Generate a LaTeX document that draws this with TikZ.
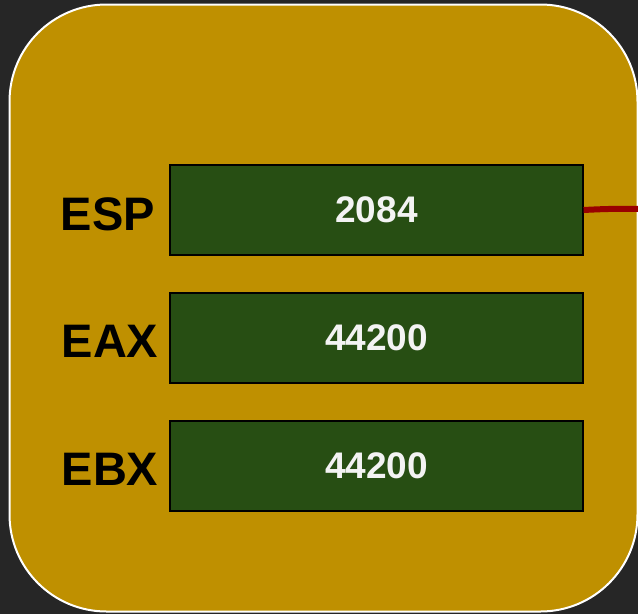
\documentclass[tikz,border=0pt]{standalone}
\usepackage{fontspec}
\setmainfont{Liberation Sans}
\definecolor{bgdark}{HTML}{262626}
\definecolor{gold}{HTML}{BF9000}
\definecolor{regfill}{HTML}{274E13}
\definecolor{linkred}{HTML}{990000}
\definecolor{numwhite}{HTML}{F3F3F3}
\begin{document}
\begin{tikzpicture}[x=1pt,y=-1pt,
  regbox/.style={draw=black, line width=1.2pt, fill=regfill, minimum width=413pt, minimum height=90pt, inner sep=0pt,
    font=\fontsize{37}{40}\selectfont\bfseries, text=numwhite},
  reglabel/.style={font=\fontsize{47}{50}\selectfont\bfseries, text=black, anchor=center}]
\useasboundingbox (0,0) rectangle (638,614);
\fill[bgdark] (0,0) rectangle (638,614);
\draw[white, line width=2pt, fill=gold, rounded corners=97pt] (9.5,4.5) rectangle (637.5,611.5);
\node[regbox] (esp) at (376.5,210) {2084};
\node[regbox] (eax) at (376.5,338) {44200};
\node[regbox] (ebx) at (376.5,466) {44200};
\node[reglabel] (lesp) at (108,214) {ESP};
\node[reglabel] (leax) at (110,341) {EAX};
\node[reglabel] (lebx) at (110,469) {EBX};
\coordinate (redend) at (640,209);
\draw[linkred, line width=6pt] (esp.east) to[bend left=2] (redend);
\end{tikzpicture}
\end{document}
